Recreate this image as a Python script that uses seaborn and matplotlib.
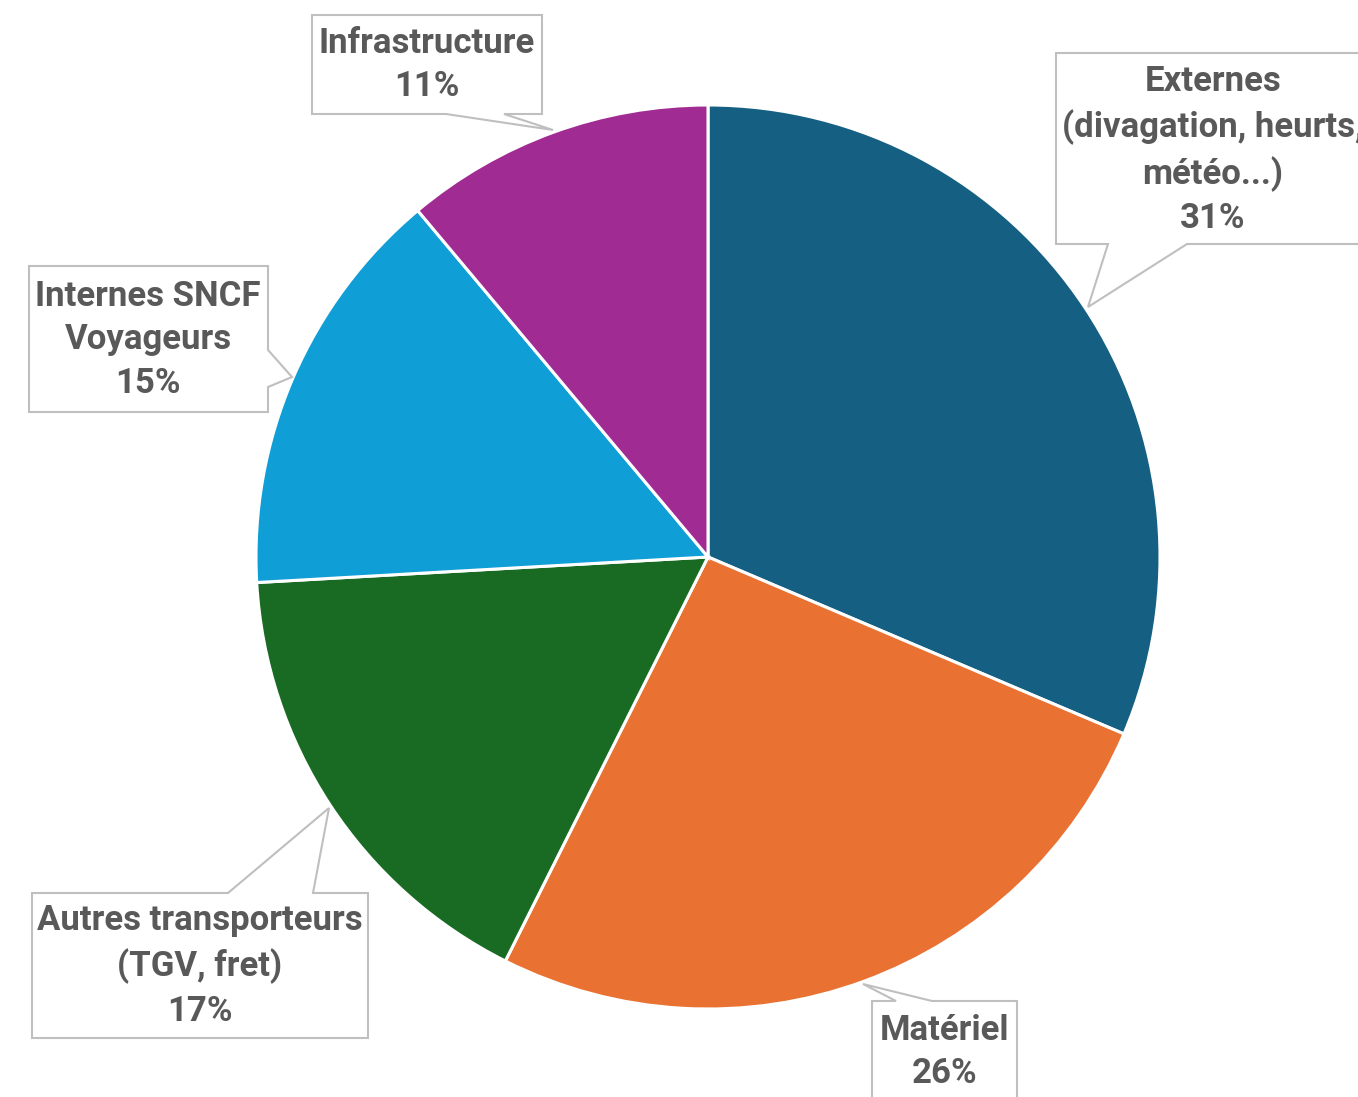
import matplotlib
matplotlib.use("Agg")
import matplotlib.pyplot as plt
import seaborn as sns
from matplotlib.patches import Polygon

categories = ["Externes\n(divagation, heurts,\nmétéo...)", "Matériel",
              "Autres transporteurs\n(TGV, fret)", "Internes SNCF\nVoyageurs",
              "Infrastructure"]
values = [31.4, 26.0, 16.7, 14.8, 11.1]
pct_labels = ["31%", "26%", "17%", "15%", "11%"]
hex_colors = ["#156082", "#E97132", "#196B24", "#0F9ED5", "#A02B93"]

sns.set_theme(style="white")
palette = sns.color_palette(hex_colors)
plt.rcParams['font.family'] = ['Roboto', 'DejaVu Sans']

W, H = 1358, 1097
fig = plt.figure(figsize=(W / 100, H / 100), dpi=100)
ax = fig.add_axes([0, 0, 1, 1])

cx, cy, r = 708, H - 557, 452
ax.pie(values, colors=palette, startangle=90, counterclock=False,
       center=(cx, cy), radius=r, frame=True,
       wedgeprops=dict(edgecolor="white", linewidth=2.2))
ax.set_xlim(0, W)
ax.set_ylim(0, H)
ax.axis("off")

# callout shapes in pixel coords (top-left origin)
callouts = [
    # Externes
    dict(poly=[(1056, 53), (1400, 53), (1400, 244), (1187, 244), (1088, 307), (1108, 244), (1056, 244)],
         text=(1213, 150)),
    # Matériel
    dict(poly=[(872, 1001), (896, 1001), (863, 984), (932, 1001), (1017, 1001), (1017, 1120), (872, 1120)],
         text=(945, 1052)),
    # Autres
    dict(poly=[(32, 893), (228, 893), (329, 808), (313, 893), (368, 893), (368, 1038), (32, 1038)],
         text=(200, 966)),
    # Internes
    dict(poly=[(29, 266), (268, 266), (268, 350), (292, 377), (268, 387), (268, 412), (29, 412)],
         text=(148, 340)),
    # Infrastructure
    dict(poly=[(312, 15), (542, 15), (542, 114), (504, 114), (553, 130), (446, 114), (312, 114)],
         text=(427, 65)),
]

for cat, pct, c in zip(categories, pct_labels, callouts):
    pts = [(x, H - y) for x, y in c["poly"]]
    ax.add_patch(Polygon(pts, closed=True, facecolor="white", edgecolor="#BFBFBF",
                         linewidth=1.5, zorder=5, clip_on=False))
    tx, ty = c["text"]
    ax.text(tx, H - ty, cat + "\n" + pct, ha="center", va="center",
            fontsize=25, fontweight="bold", color="#595959",
            linespacing=1.4, zorder=6)

fig.savefig("out.png", dpi=100)
